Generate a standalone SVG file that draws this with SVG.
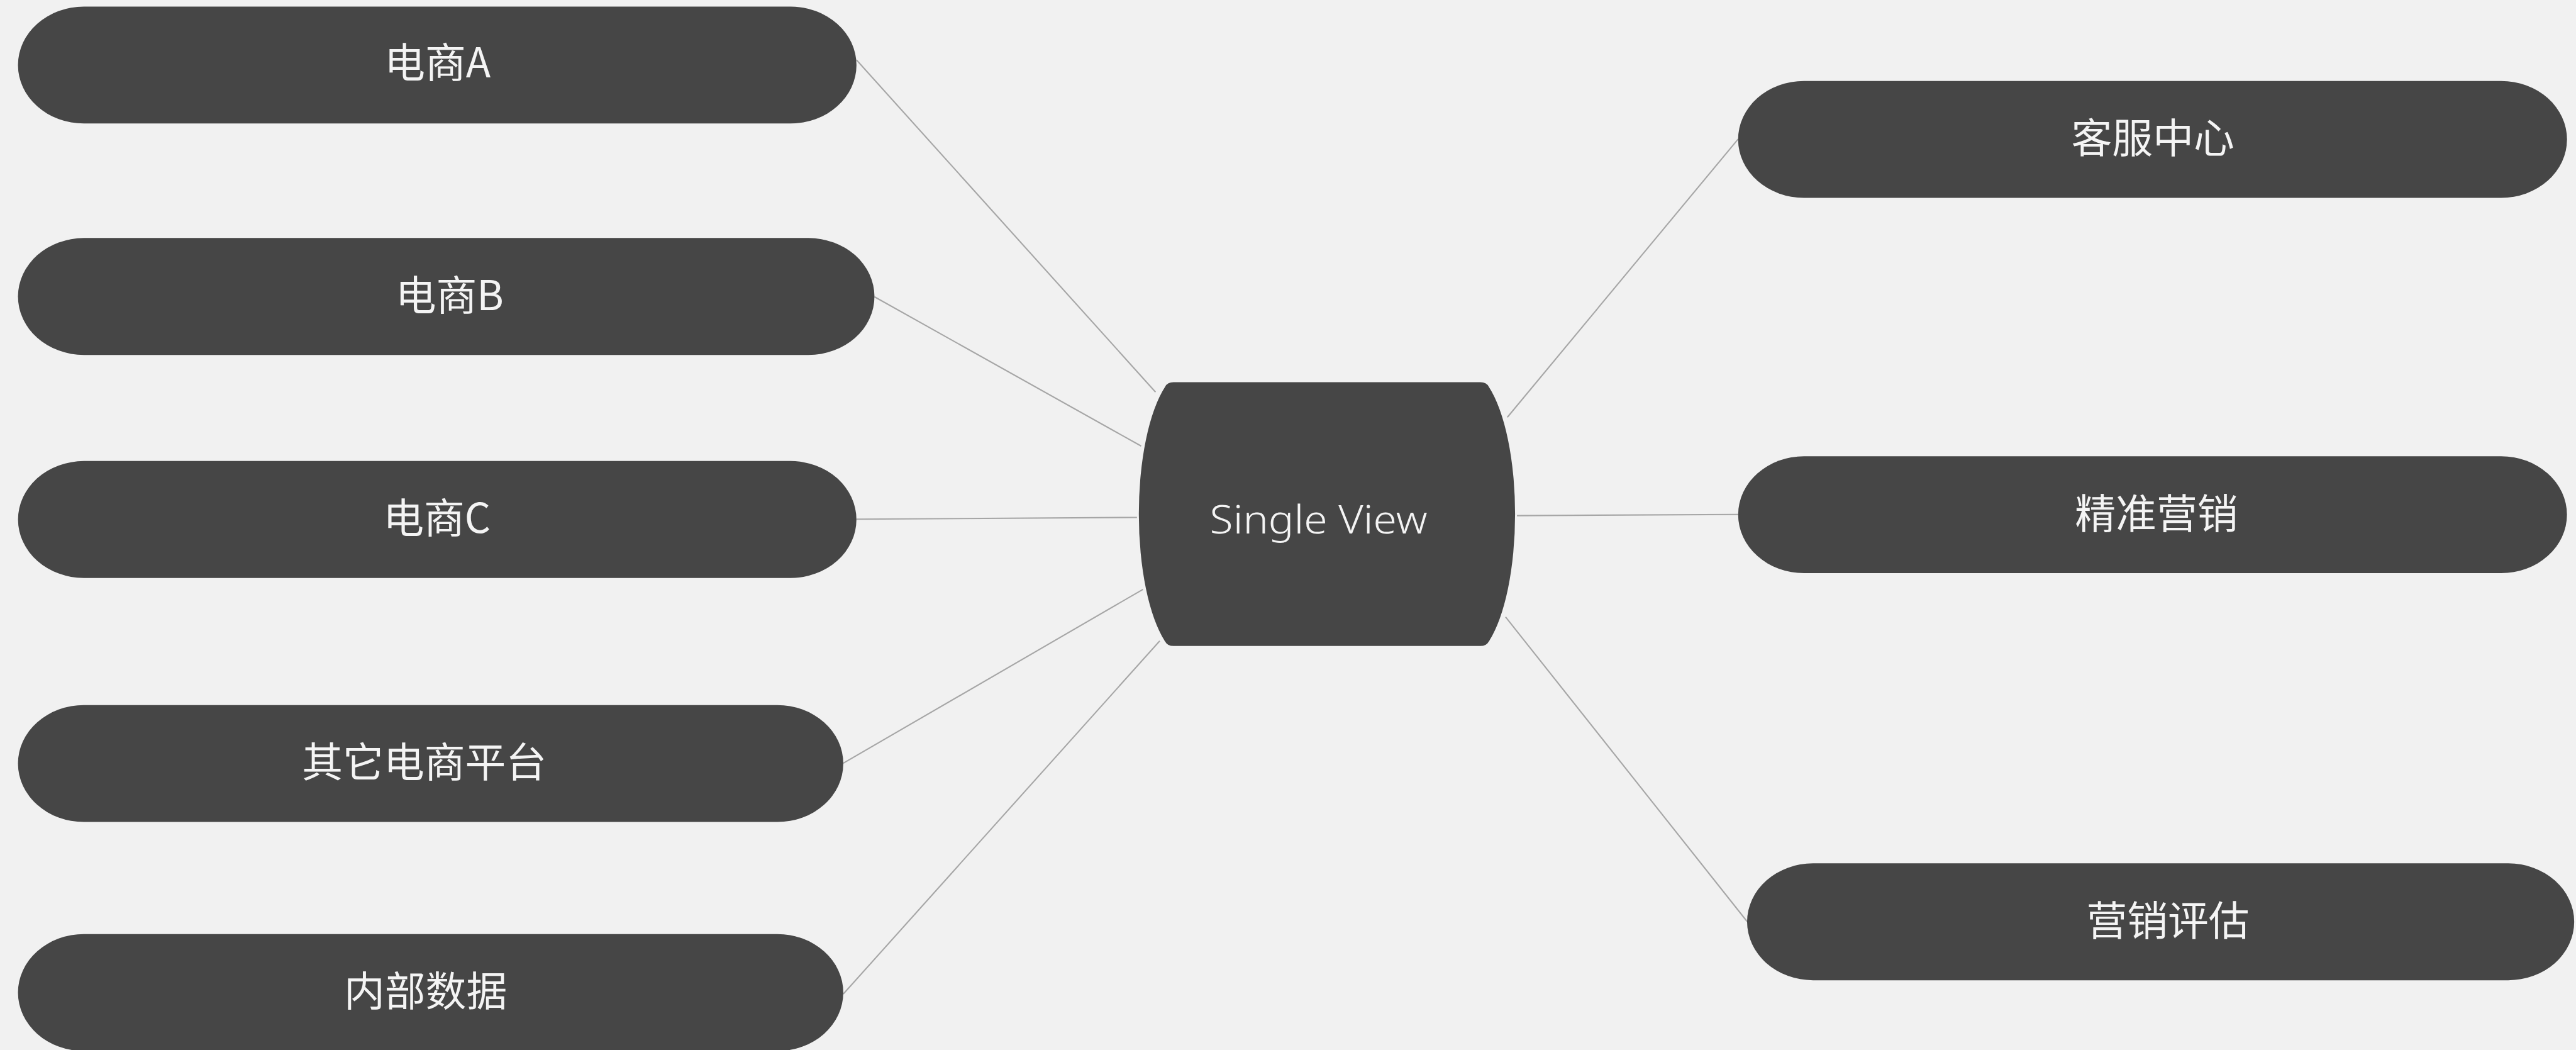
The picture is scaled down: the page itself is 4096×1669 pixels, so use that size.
<svg xmlns="http://www.w3.org/2000/svg" width="4096" height="1669" viewBox="0 0 4096 1669">
<style>
.bg{fill:#f1f1f1}
.node{fill:#464646}
.lbl{fill:#f4f4f4;font-family:"Noto Sans CJK SC","Noto Sans",sans-serif;font-weight:400;font-size:68px;text-anchor:middle}
.sv{fill:#f4f4f4;font-family:"Noto Sans","Open Sans",sans-serif;font-weight:300;font-size:66px;text-anchor:middle}
.conn line{stroke:#a6a6a6;stroke-width:2.2;fill:none}
</style>
<rect class="bg" x="0" y="0" width="4096" height="1669"/>
<g transform="scale(0.953)">
<g id="connectors" class="conn">
<line x1="1429" y1="100" x2="1928" y2="654"/>
<line x1="1459" y1="495" x2="1904" y2="744"/>
<line x1="1429" y1="866" x2="1897" y2="863"/>
<line x1="1407" y1="1273" x2="1907" y2="983"/>
<line x1="1407" y1="1658" x2="1935" y2="1069"/>
<line x1="2900" y1="232" x2="2515" y2="696"/>
<line x1="2900" y1="858" x2="2531" y2="860"/>
<line x1="2915" y1="1537" x2="2512" y2="1029"/>
</g>
<g id="n-center">
<path class="node" d="M1958,637.5 H2470 Q2480,637.5 2484,645 A82 240 0 0 1 2484,1070 Q2480,1077.5 2470,1077.5 H1958 Q1948,1077.5 1944,1070 A82 240 0 0 1 1944,645 Q1948,637.5 1958,637.5 Z"/>
<text class="sv" x="2200" y="890" textLength="363" lengthAdjust="spacingAndGlyphs">Single View</text>
</g>
<g id="n-a">
<path class="node" d="M140,11 H1319 A110 97.5 0 0 1 1319,206 H140 A110 97.5 0 0 1 140,11 Z"/>
<text class="lbl" x="730" y="129">电商A</text>
</g>
<g id="n-b">
<path class="node" d="M140,397 H1349 A110 97.5 0 0 1 1349,592 H140 A110 97.5 0 0 1 140,397 Z"/>
<text class="lbl" x="750" y="517">电商B</text>
</g>
<g id="n-c">
<path class="node" d="M140,769 H1319 A110 97.5 0 0 1 1319,964 H140 A110 97.5 0 0 1 140,769 Z"/>
<text class="lbl" x="729" y="889">电商C</text>
</g>
<g id="n-other">
<path class="node" d="M140,1176 H1297 A110 97.5 0 0 1 1297,1371 H140 A110 97.5 0 0 1 140,1176 Z"/>
<text class="lbl" x="708" y="1296">其它电商平台</text>
</g>
<g id="n-internal">
<path class="node" d="M140,1558 H1297 A110 97.5 0 0 1 1297,1753 H140 A110 97.5 0 0 1 140,1558 Z"/>
<text class="lbl" x="710" y="1678">内部数据</text>
</g>
<g id="n-service">
<path class="node" d="M3010,135 H4173 A110 97.5 0 0 1 4173,330 H3010 A110 97.5 0 0 1 3010,135 Z"/>
<text class="lbl" x="3592" y="255">客服中心</text>
</g>
<g id="n-precise">
<path class="node" d="M3010,761 H4173 A110 97.5 0 0 1 4173,956 H3010 A110 97.5 0 0 1 3010,761 Z"/>
<text class="lbl" x="3598" y="881">精准营销</text>
</g>
<g id="n-eval">
<path class="node" d="M3025,1440 H4185 A110 97.5 0 0 1 4185,1635 H3025 A110 97.5 0 0 1 3025,1440 Z"/>
<text class="lbl" x="3617" y="1560">营销评估</text>
</g>
</g>
</svg>
